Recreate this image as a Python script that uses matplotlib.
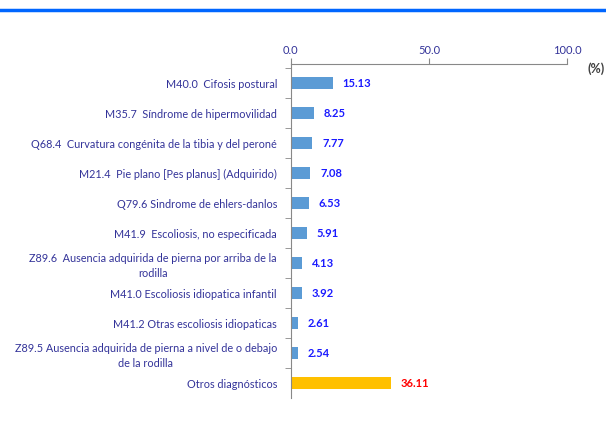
import matplotlib.pyplot as plt
from matplotlib.lines import Line2D

# datos
diagnosticos = [
    'M40.0  Cifosis postural',
    'M35.7  Síndrome de hipermovilidad',
    'Q68.4  Curvatura congénita de la tibia y del peroné',
    'M21.4  Pie plano [Pes planus] (Adquirido)',
    'Q79.6 Sindrome de ehlers-danlos',
    'M41.9  Escoliosis, no especificada',
    'Z89.6  Ausencia adquirida de pierna por arriba de la\nrodilla',
    'M41.0 Escoliosis idiopatica infantil',
    'M41.2 Otras escoliosis idiopaticas',
    'Z89.5 Ausencia adquirida de pierna a nivel de o debajo\nde la rodilla',
    'Otros diagnósticos',
]
porcentajes = [15.13, 8.25, 7.77, 7.08, 6.53, 5.91, 4.13, 3.92, 2.61, 2.54, 36.11]
x_ticks = [0, 50, 100]

plt.rcParams['font.family'] = ['Lato', 'DejaVu Sans']

fig = plt.figure(figsize=(6.06, 4.21), dpi=100)
ax = fig.add_axes([0.480, 0.0546, 0.456, 0.793])

n = len(porcentajes)
ypos = list(range(n))
colores = ['#5B9BD5'] * (n - 1) + ['#FFC000']
ax.barh(ypos, porcentajes, height=0.4, color=colores)
ax.set_ylim(n - 0.5, -0.63)
ax.set_xlim(0, 100)

# etiquetas de valor
for i, v in enumerate(porcentajes):
    col = '#FF0000' if i == n - 1 else '#1A1AFF'
    ax.annotate(f'{v:.2f}', (v, i), xytext=(7, 0), textcoords='offset points',
                va='center', ha='left', fontsize=8, fontweight='bold', color=col)

# eje x arriba
ax.xaxis.tick_top()
ax.set_xticks(x_ticks)
ax.set_xticklabels([f'{t:.1f}' for t in x_ticks], fontsize=8, color='#333399')
ax.tick_params(axis='x', length=4, color='#888888', pad=2)

# eje y: categorías con marcas entre ellas
ax.set_yticks(ypos)
ax.set_yticklabels(diagnosticos, fontsize=7.8, color='#333399')
for lbl in ax.get_yticklabels():
    lbl.set_multialignment('center')
    lbl.set_linespacing(1.45)
ax.tick_params(axis='y', length=0, pad=10)
ax.set_yticks([i - 0.5 for i in range(n)], minor=True)
ax.tick_params(axis='y', which='minor', length=4, color='#888888')

for s in ['right', 'bottom']:
    ax.spines[s].set_visible(False)
ax.spines['top'].set_color('#888888')
ax.spines['left'].set_color('#888888')

fig.text(0.983, 0.838, '(%)', fontsize=9, fontweight='bold', color='#404040',
         ha='center', va='center')

# línea azul superior
fig.add_artist(Line2D([0, 1], [0.976, 0.976], color='#0066FF', linewidth=2.5,
                      transform=fig.transFigure))

fig.savefig('out.png', dpi=100)
